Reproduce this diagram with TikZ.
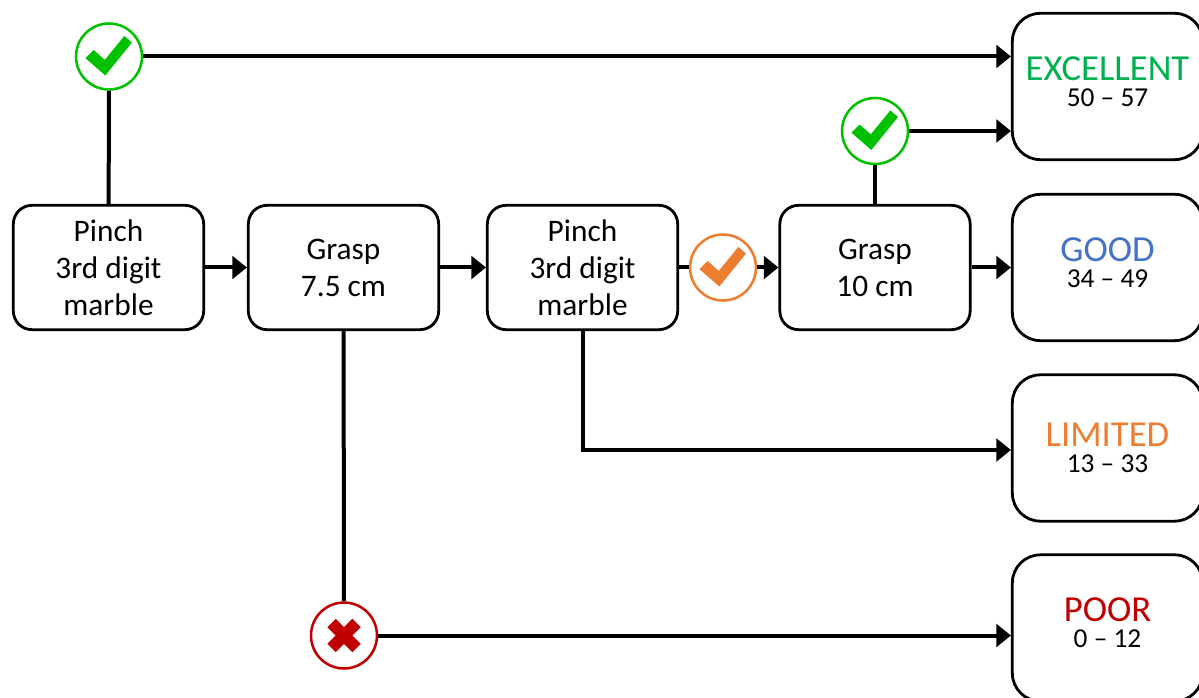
\documentclass[tikz,border=0pt]{standalone}
\usepackage{fontspec}
\setmainfont{Carlito}
\usetikzlibrary{positioning, arrows.meta, calc}
\definecolor{chkgreen}{HTML}{00C000}
\definecolor{chkorange}{HTML}{ED7D31}
\definecolor{chkred}{HTML}{C00000}
\definecolor{txtgreen}{HTML}{00B050}
\definecolor{txtblue}{HTML}{4472C4}
\newcommand{\restext}[3]{{\fontsize{27.5}{27.5}\selectfont\color{#1}#2}\\#3}

\begin{document}
\begin{tikzpicture}[
    x=0.75pt, y=-0.75pt,
    testbox/.style={
        rectangle,
        draw=black,
        fill=white,
        minimum width=142.75pt,
        minimum height=93.25pt,
        font=\fontsize{23.5}{27.75}\selectfont,
        rounded corners=14pt,
        align=center,
        line width=2.1pt
    },
    resbox/.style={
        rectangle,
        draw=black,
        fill=white,
        minimum width=142.75pt,
        minimum height=109.75pt,
        font=\fontsize{20.5}{19.5}\selectfont,
        text depth=7.5pt,
        rounded corners=21pt,
        align=center,
        line width=2.1pt
    },
    badge/.style={
        circle,
        draw=#1,
        fill=white,
        minimum size=49.5pt,
        inner sep=0pt,
        line width=1.9pt
    },
    arrow/.style={
        -{Triangle[length=11pt,width=17pt]},
        line width=3pt,
        color=black
    },
    plain/.style={
        line width=3pt,
        color=black
    },
    pics/chkmark/.style={
        code={\fill[#1] (-23.5,1.7) -- (-15.3,-6.5) -- (-4.2,3.4) -- (15.3,-20.5) -- (23,-14) -- (-3.7,19) -- cycle;}
    },
    pics/crossmark/.style={
        code={\fill[#1] (-8.3,-16.7) -- (0,-8.3) -- (8.3,-16.7) -- (16.7,-8.3) -- (8.3,0) -- (16.7,8.3)
            -- (8.3,16.7) -- (0,8.3) -- (-8.3,16.7) -- (-16.7,8.3) -- (-8.3,0) -- (-16.7,-8.3) -- cycle;}
    }
]
\clip (0,0) rectangle (1199,698);

% Test boxes
\node[testbox] (pinch1) at (108.5, 267.5) {Pinch\\3rd digit\\marble};
\node[testbox] (grasp1) at (343.5, 267.5) {Grasp\\7.5 cm};
\node[testbox] (pinch2) at (582.5, 267.5) {Pinch\\3rd digit\\marble};
\node[testbox] (grasp2) at (875, 267.5) {Grasp\\10 cm};

% Result boxes
\node[resbox] (excellent) at (1107.5, 86.5) {\restext{txtgreen}{EXCELLENT}{50 -- 57}};
\node[resbox] (good) at (1107.5, 267.5) {\restext{txtblue}{GOOD}{34 -- 49}};
\node[resbox, text depth=-1.5pt] (limited) at (1107.5, 448) {\restext{chkorange}{LIMITED}{13 -- 33}};
\node[resbox] (poor) at (1107.5, 628) {\restext{chkred}{POOR}{0 -- 12}};

% Badges
\node[badge=chkgreen] (top) at (109, 56.5) {};
\node[badge=chkgreen] (upper) at (875, 131) {};
\node[badge=chkorange] (middle) at (723, 267.5) {};
\node[badge=chkred] (fail) at (344, 635.5) {};
\pic at (top) {chkmark=chkgreen};
\pic at (upper) {chkmark=chkgreen};
\pic at (middle) {chkmark=chkorange};
\pic at (fail) {crossmark=chkred};

% Main row
\draw[arrow] (pinch1) -- (grasp1);
\draw[arrow] (grasp1) -- (pinch2);
\draw[plain] (pinch2) -- (middle);
\draw[arrow] (middle) -- (grasp2);
\draw[arrow] (grasp2) -- (good);

% Branches up
\draw[plain] (pinch1) -- (top);
\draw[arrow] (top) -- (top -| excellent.west);
\draw[plain] (grasp2) -- (upper);
\draw[arrow] (upper) -- (upper -| excellent.west);

% Branches down
\draw[arrow] (pinch2.south) |- ([yshift=-1.5pt] limited.west);
\draw[plain] (grasp1) -- (fail);
\draw[arrow] (fail) -- (fail -| poor.west);

\end{tikzpicture}
\end{document}
